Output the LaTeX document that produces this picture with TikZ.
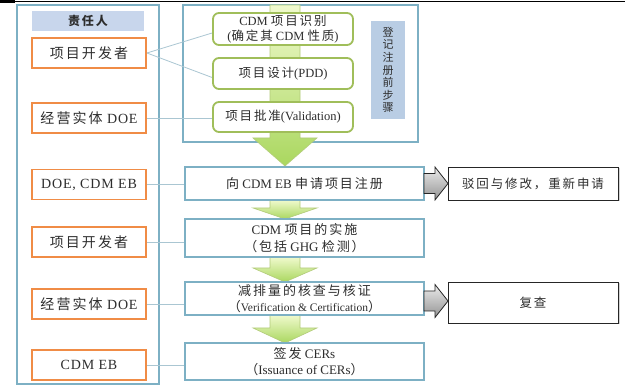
\documentclass[tikz,border=0pt]{standalone}
\usepackage{fontspec}
\setmainfont{Liberation Serif}
\newfontfamily\cjk{Noto Sans CJK SC}[LetterSpace=15]
\newfontfamily\cjkplain{Noto Sans CJK SC}
\newfontfamily\widelatin{Liberation Serif}[LetterSpace=6]
\newcommand\z[1]{{\cjk #1}}
\usetikzlibrary{shadows}

\definecolor{panelline}{RGB}{125,176,196}
\definecolor{orangeline}{RGB}{240,140,70}
\definecolor{greenline}{RGB}{160,190,90}
\definecolor{headfill}{RGB}{200,214,236}
\definecolor{tagfill}{RGB}{185,205,228}
\definecolor{linkline}{RGB}{170,198,210}
\definecolor{arrowtop}{RGB}{240,250,205}
\definecolor{arrowbot}{RGB}{170,215,95}
\definecolor{txt}{RGB}{45,45,45}

\pgfdeclarelayer{back}
\pgfdeclarelayer{mid}
\pgfsetlayers{back,mid,main}

\tikzset{
  panel/.style={draw=panelline, line width=1.5pt, fill=white, inner sep=0pt},
  role/.style={draw=orangeline, line width=1.8pt, fill=white, text=txt,
    minimum width=114pt, minimum height=30pt, inner sep=0pt,
    font=\fontsize{14}{16}\selectfont\widelatin},
  rolehead/.style={fill=headfill, text=txt, minimum width=112pt, minimum height=20pt,
    inner sep=0pt, font=\fontsize{12}{14}\selectfont\bfseries},
  prestep/.style={draw=greenline, line width=1.8pt, fill=white, rounded corners=6pt,
    text=txt, minimum width=140pt, inner sep=0pt, align=center,
    font=\fontsize{12.5}{15}\selectfont},
  procbox/.style={draw=panelline, line width=1.5pt, fill=white, text=txt,
    minimum width=239pt, inner sep=0pt, align=center,
    font=\fontsize{13}{16.5}\selectfont},
  tagbox/.style={fill=tagfill, text=txt, minimum width=34pt, minimum height=98pt,
    inner sep=0pt, align=center, font=\fontsize{11}{12.6}\selectfont\cjkplain},
  outcome/.style={draw=black!85, line width=0.9pt, fill=white, text=txt,
    minimum width=170pt, inner sep=0pt, align=center,
    font=\fontsize{12.5}{15}\selectfont,
    drop shadow={opacity=0.35, shadow xshift=1.5pt, shadow yshift=-1.5pt}},
  link/.style={draw=linkline, line width=0.8pt},
  garrow/.style={top color=arrowtop, bottom color=arrowbot, draw=greenline!80, line width=0.6pt},
  sidearrow/.style={top color=black!8, bottom color=black!42, draw=black!85, line width=0.8pt}
}

\begin{document}
\begin{tikzpicture}[x=1pt,y=-1pt]
\useasboundingbox (0,0) rectangle (625,387);

% rule along the top edge
\draw[line width=1pt] (0,1.5) -- (625,1.5);
\fill (0,0) rectangle (15,3.5);

% outer frames
\begin{pgfonlayer}{back}
  \node[panel, minimum width=142pt, minimum height=379pt] (lp) at (88,194.5) {};
  \node[panel, minimum width=235pt, minimum height=137pt] (tp) at (300.5,73.5) {};
\end{pgfonlayer}

% responsible parties
\node[rolehead] (head) at (88,21) {\z{责任人}};
\node[role] (dev1) at (89,53) {\z{项目开发者}};
\node[role] (doe1) at (89,118) {\z{经营实体} DOE};
\node[role] (eb1) at (89,184.5) {DOE, CDM EB};
\node[role] (dev2) at (89,242) {\z{项目开发者}};
\node[role] (doe2) at (89,304) {\z{经营实体} DOE};
\node[role] (eb2) at (89,365) {CDM EB};

% pre-registration steps
\node[prestep, minimum height=32pt] (idn) at (283,29)
  {CDM \z{项目识别}\\(\z{确定其} CDM \z{性质})};
\node[prestep, minimum height=31pt] (pdd) at (283,73.5) {\z{项目设计}(PDD)};
\node[prestep, minimum height=30pt] (val) at (283,117) {\z{项目批准}(Validation)};
\node[tagbox] (tag) at (388,70) {登\\记\\注\\册\\前\\步\\骤};

% main process
\node[procbox, minimum height=33pt] (reg) at (304.5,183.5)
  {\z{向} CDM EB \z{申请项目注册}};
\node[procbox, minimum height=38pt] (impl) at (304.5,238)
  {CDM \z{项目的实施}\\\z{（包括} GHG \z{检测）}};
\node[procbox, minimum height=33pt] (ver) at (304.5,298.5)
  {\z{减排量的核查与核证}\\\z{（}{\fontsize{11.5}{13}\selectfont Verification \& Certification}\z{）}};
\node[procbox, minimum height=37pt] (iss) at (304.5,361.5)
  {\z{签发} CERs\\\z{（}Issuance of CERs\z{）}};

% side outcomes
\node[outcome, minimum height=33pt] (rej) at (533,183.5) {\z{驳回与修改，重新申请}};
\node[outcome, minimum height=41pt] (rev) at (533,302.5) {\z{复查}};

% links from parties to steps, and the green flow arrows
\begin{pgfonlayer}{mid}
  \draw[link] (dev1.east) -- ([yshift=-4pt]idn.west);
  \draw[link] (dev1.east) -- ([yshift=-4pt]pdd.west);
  \draw[link] (doe1.east) -- (doe1.east -| val.west);
  \draw[link] (eb1.east) -- (eb1.east -| reg.west);
  \draw[link] (dev2.east) -- (dev2.east -| impl.west);
  \draw[link] (doe2.east) -- (doe2.east -| ver.west);
  \draw[link] (eb2.east) -- (eb2.east -| iss.west);

  \shade[garrow] (270,5) -- (300,5) -- (300,138) -- (317,138) -- (285,166)
    -- (253,138) -- (270,138) -- cycle;
  \shade[garrow] (270,200) -- (300,200) -- (300,208) -- (317,208) -- (285,219)
    -- (253,208) -- (270,208) -- cycle;
  \shade[garrow] (270,257) -- (300,257) -- (300,268) -- (317,268) -- (285,282)
    -- (253,268) -- (270,268) -- cycle;
  \shade[garrow] (270,315) -- (300,315) -- (300,328) -- (317,328) -- (285,343)
    -- (253,328) -- (270,328) -- cycle;
\end{pgfonlayer}

% grey block arrows to the outcomes
\shade[sidearrow] (424,173.5) -- (435,173.5) -- (435,167) -- (448,183.5)
  -- (435,200) -- (435,193.5) -- (424,193.5) -- cycle;
\shade[sidearrow] (424,291) -- (435,291) -- (435,284.5) -- (448,301)
  -- (435,317.5) -- (435,311) -- (424,311) -- cycle;
\end{tikzpicture}
\end{document}
